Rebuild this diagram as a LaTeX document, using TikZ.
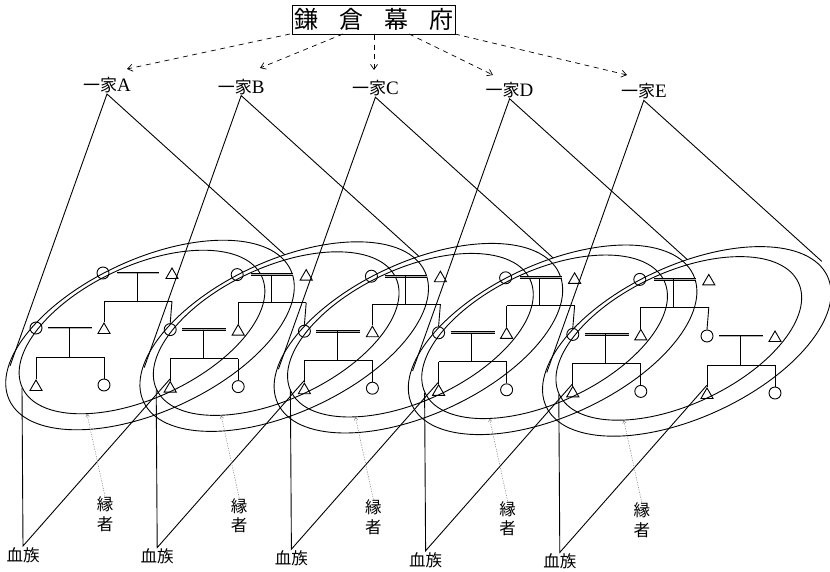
\documentclass[tikz,border=0pt]{standalone}
\usepackage{fontspec}
\setmainfont{Liberation Serif}
\newfontfamily\cjk{Noto Sans CJK JP}
\usetikzlibrary{arrows.meta,shapes.geometric}
\begin{document}
\begin{tikzpicture}[x=1pt,y=-1pt,line width=0.9pt,
  fem/.style={circle,draw,minimum size=12pt,inner sep=0pt},
  mal/.style={regular polygon,regular polygon sides=3,draw,minimum size=14pt,inner sep=0pt},
  wed/.style={line width=1pt,double=gray!60,double distance=0.9pt},
  lab/.style={inner sep=0pt,font=\fontsize{17}{17}\selectfont},
  kan/.style={inner sep=0pt,font=\fontsize{16.5}{16.5}\selectfont\cjk},
  ptr/.style={gray,line width=0.5pt,dash pattern=on 1.2pt off 1.3pt,-{Straight Barb[length=2.5pt,width=3.5pt]}},
  call/.style={line width=0.7pt,dash pattern=on 5pt off 4.5pt,-{Straight Barb[length=5pt,width=7pt]}}]
\useasboundingbox (0,0) rectangle (830,571);

% shogunate box
\node[draw,line width=0.8pt,minimum width=163pt,minimum height=29pt,inner sep=0pt,
      font=\fontsize{24}{24}\selectfont\cjk] (bak) at (373.5,19.5)
      {鎌\hspace{21pt}倉\hspace{21pt}幕\hspace{21pt}府};
\coordinate (s0) at (290,34);
\coordinate (s1) at (343,34);
\coordinate (s2) at (374,35);
\coordinate (s3) at (409,34);
\coordinate (s4) at (455,34);

% second-generation couples and their children (one per house, plus the last in-law)
\foreach \j in {0,...,5}{
  \begin{scope}[shift={(134.2*\j,1.6*\j)}]
    \node[fem] (w\j) at (36,328) {};
    \node[mal] (h\j) at (104,330) {};
    \coordinate (wa\j) at (48,328);
    \coordinate (wb\j) at (92,328);
    \coordinate (wd\j) at (69,328);
    \coordinate (ws\j) at (69,357);
    \coordinate (sa\j) at (36,357);
    \coordinate (sb\j) at (104,357);
    \node[mal] (c\j) at (36,387) {};
    \node[fem] (d\j) at (104,385) {};
    \draw[wed] (wa\j) -- (wb\j);
    \draw (wd\j) -- (ws\j);
    \draw (sa\j) -- (sb\j);
    \draw (sa\j) -- (c\j.north);
    \draw (sb\j) -- (d\j.north);
  \end{scope}
}

% houses A-E
\foreach \i/\L [count=\k from 1] in {0/A,1/B,2/C,3/D,4/E}{
  \begin{scope}[shift={(134.2*\i,1.6*\i)}]
    % head couple
    \node[fem] (tw\i) at (103,273) {};
    \node[mal] (th\i) at (172,275) {};
    \coordinate (ta\i) at (117,273);
    \coordinate (tb\i) at (159,273);
    \coordinate (td\i) at (137,273);
    \coordinate (ts\i) at (137,301);
    \coordinate (ua\i) at (104,301);
    \coordinate (ub\i) at (172,301);
    \draw[wed] (ta\i) -- (tb\i);
    \draw (td\i) -- (ts\i);
    \draw (ua\i) -- (ub\i);
    \draw (ua\i) -- (h\i.north);
    \draw (ub\i) -- (w\k.north);
    % house and kin rings
    \draw[rotate around={24.8:(150,335)}] (150,335) ellipse [x radius=155pt,y radius=76pt];
    \draw[rotate around={25:(142,332)}] (142,332) ellipse [x radius=132pt,y radius=66pt];
    % house cone
    \node[lab] (ie\i) at (107,85) {{\cjk 一家}\fontsize{19}{19}\selectfont\L};
    \coordinate (ap\i) at (107,94);
    \coordinate (ol\i) at (10,366);
    \coordinate (or\i) at (285,255);
    \draw (ol\i) -- (ap\i) -- (or\i);
    % blood-kin cone
    \node[kan] (kz\i) at (23,555) {血族};
    \coordinate (bp\i) at (23,546);
    \coordinate (bl\i) at (22,388);
    \coordinate (br\i) at (170,379);
    \draw (bl\i) -- (bp\i) -- (br\i);
    % in-law label
    \node[kan,align=center] (en\i) at (105,514) {縁\\[3pt]者};
    \coordinate (et\i) at (87,414);
    \draw[ptr] (en\i.north) -- (et\i);
  \end{scope}
}

% the shogunate calls on each house
\draw[call] (s0) -- (127,69);
\draw[call] (s1) -- (260,68);
\draw[call] (s2) -- (374,70);
\draw[call] (s3) -- (493,75);
\draw[call] (s4) -- (627,75);
\end{tikzpicture}
\end{document}
